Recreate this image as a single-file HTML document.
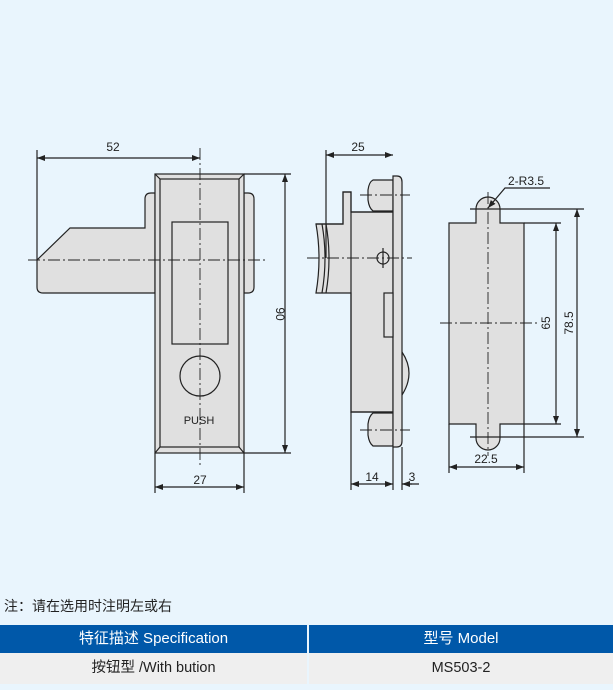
<!DOCTYPE html>
<html><head><meta charset="utf-8"><style>
html,body{margin:0;padding:0;background:#fff}
#w{position:relative;width:613px;height:690px;background:#e9f5fd;overflow:hidden;font-family:"Liberation Sans","Noto Sans CJK SC",sans-serif}
svg{position:absolute;left:0;top:0}
.note{position:absolute;left:4px;top:596px;font-size:14px;color:#222}
.th{position:absolute;top:625px;height:28px;background:#0058a9;color:#fff;font-size:15px;line-height:28px;text-align:center}
.td{position:absolute;top:653px;height:31px;background:#efefef;color:#222;font-size:14.5px;line-height:31px;text-align:center}
</style></head><body><div id="w">
<svg width="613" height="600" viewBox="0 0 613 600" font-family="Liberation Sans, sans-serif" font-size="12" fill="none" stroke="#222" stroke-width="1.2">
<defs><marker id="a" markerWidth="8" markerHeight="6" refX="8" refY="3" orient="auto-start-reverse" markerUnits="userSpaceOnUse"><path d="M0,0 L8,3 L0,6 Z" fill="#222" stroke="none"/></marker></defs>
<!-- VIEW 1 -->
<path d="M155,193 H151 Q145,193 145,199 V228 H70 L37,260 V287 Q37,293 43,293 H155 Z" fill="#e0e0e0"/>
<path d="M244,193 H248 Q254,193 254,199 V287 Q254,293 248,293 H244 Z" fill="#e0e0e0"/>
<rect x="155" y="174" width="89" height="279" fill="#e0e0e0"/>
<rect x="160" y="179" width="79" height="268"/>
<path d="M155,174 L160,179 M244,174 L239,179 M155,453 L160,447 M244,453 L239,447"/>
<rect x="172" y="222" width="56" height="122"/>
<circle cx="200" cy="376" r="20"/>
<text x="199" y="424" text-anchor="middle" fill="#222" stroke="none" font-size="11">PUSH</text>
<g stroke-dasharray="12,3,2,3" stroke-width="0.9"><path d="M200,148 V465 M28,260 H268"/></g>
<path d="M37,150 V260"/>
<path d="M37,158 H200" marker-start="url(#a)" marker-end="url(#a)"/>
<text x="113" y="151" text-anchor="middle" fill="#222" stroke="none">52</text>
<path d="M244,174 H291 M244,453 H291"/>
<path d="M285,174 V453" marker-start="url(#a)" marker-end="url(#a)"/>
<text transform="translate(276,314) rotate(90)" text-anchor="middle" fill="#222" stroke="none">90</text>
<path d="M155,453 V493 M244,453 V493"/>
<path d="M155,487 H244" marker-start="url(#a)" marker-end="url(#a)"/>
<text x="200" y="484" text-anchor="middle" fill="#222" stroke="none">27</text>
<!-- VIEW 2 -->
<path d="M316,224 H343 V192 H351 V212 H393 V412 H351 V293 H316 Q322,258 316,224 Z" fill="#e0e0e0"/>
<path d="M322,224 Q328,258 322,293 M326,224 Q332,258 326,293"/>
<path d="M316,224 H343 V192 H351 V412 H393 M351,212 H393"/>
<path d="M373,180 H393 V211 H373 Q369,208 368,200 V190 Q369,182 373,180 Z" fill="#e0e0e0"/>
<path d="M373,413 H393 V446 H373 Q369,443 368,435 V424 Q369,416 373,413 Z" fill="#e0e0e0"/>
<path d="M402,352 Q416,373 402,395 Z" fill="#e0e0e0"/>
<path d="M393,176 H397 Q402,176 402,182 V441 Q402,447 397,447 H393 Z" fill="#e0e0e0"/>
<rect x="384" y="293" width="9" height="44" fill="#e0e0e0"/>
<circle cx="383" cy="258" r="6"/>
<path d="M383,248 V268"/>
<g stroke-dasharray="12,3,2,3" stroke-width="0.9"><path d="M307,258 H412 M360,195 H410 M360,430 H410"/></g>
<path d="M326,150 V258"/>
<path d="M326,155 H393" marker-start="url(#a)" marker-end="url(#a)"/>
<text x="358" y="151" text-anchor="middle" fill="#222" stroke="none">25</text>
<path d="M351,412 V490 M393,447 V490 M402,447 V490"/>
<path d="M351,484 H393" marker-start="url(#a)" marker-end="url(#a)"/>
<path d="M412,484 H402" marker-end="url(#a)"/>
<path d="M402,484 H419"/>
<text x="372" y="481" text-anchor="middle" fill="#222" stroke="none">14</text>
<text x="412" y="481" text-anchor="middle" fill="#222" stroke="none">3</text>
<!-- VIEW 3 -->
<path d="M449,223 H476 V209 A12,12 0 0 1 500,209 V223 H524 V424 H500 V438 A12,12 0 0 1 476,438 V424 H449 Z" fill="#e0e0e0"/>
<g stroke-dasharray="12,3,2,3" stroke-width="0.9"><path d="M488,192 V456 M440,323 H540"/></g>
<path d="M524,223 H561 M524,424 H561 M470,209 H584 M470,437 H584"/>
<path d="M556,223 V424" marker-start="url(#a)" marker-end="url(#a)"/>
<path d="M577,209 V437" marker-start="url(#a)" marker-end="url(#a)"/>
<text transform="translate(550,323) rotate(-90)" text-anchor="middle" fill="#222" stroke="none">65</text>
<text transform="translate(573,323) rotate(-90)" text-anchor="middle" fill="#222" stroke="none">78.5</text>
<path d="M449,424 V473 M524,424 V473"/>
<path d="M449,467 H524" marker-start="url(#a)" marker-end="url(#a)"/>
<text x="486" y="463" text-anchor="middle" fill="#222" stroke="none">22.5</text>
<path d="M550,188 H505 L488,208" marker-end="url(#a)"/>
<text x="526" y="185" text-anchor="middle" fill="#222" stroke="none">2-R3.5</text>
</svg>
<div class="note">注：请在选用时注明左或右</div>
<div class="th" style="left:0;width:307px">特征描述 Specification</div>
<div class="th" style="left:309px;width:304px">型号 Model</div>
<div class="td" style="left:0;width:307px">按钮型 /With bution</div>
<div class="td" style="left:309px;width:304px">MS503-2</div>
</div></body></html>
